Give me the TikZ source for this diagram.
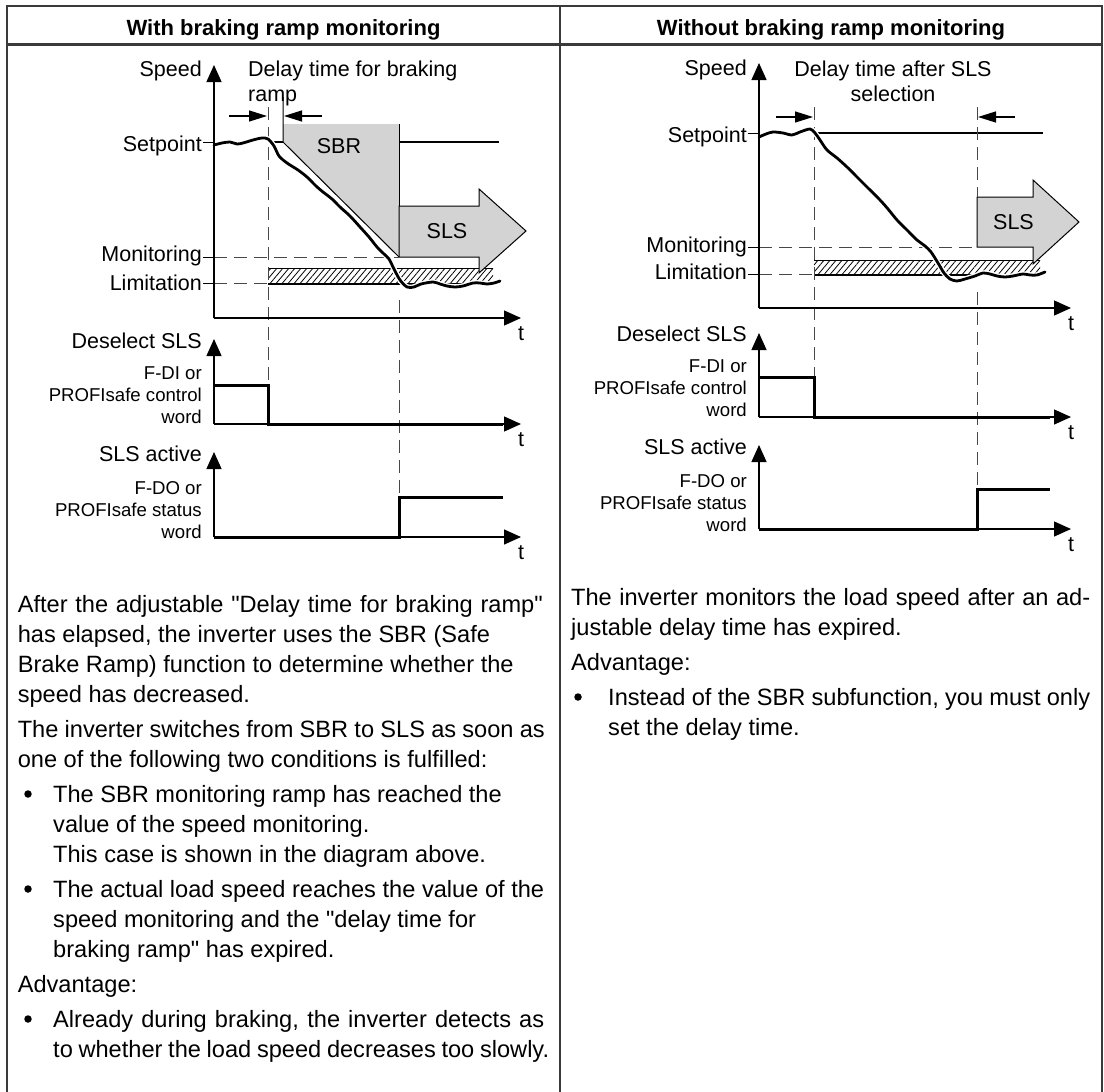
\documentclass[tikz,border=0pt]{standalone}
\usepackage{fontspec}
\setmainfont{Liberation Sans}[Ligatures=TeXOff]
\usetikzlibrary{arrows.meta, patterns.meta}
\definecolor{framegray}{HTML}{3A3A3A}
\definecolor{rampgray}{HTML}{D3D3D3}
\definecolor{dashgray}{HTML}{474747}
\newcommand{\justline}[2]{\hbox to #1pt{#2}}

\begin{document}
\begin{tikzpicture}[x=1pt, y=-1pt,
    frame/.style={draw=framegray, line width=1.3pt},
    axis/.style={line width=1.3pt, -{Triangle[length=17pt,width=15pt]}},
    delayarrow/.style={line width=1.3pt, -{Triangle[length=18pt,width=11pt]}},
    signal/.style={line width=3pt},
    guide/.style={dashgray, line width=0.9pt, dash pattern=on 13pt off 7pt},
    tick/.style={line width=1pt},
    hatchband/.style={pattern={Lines[angle=50,distance=4.6pt,line width=0.8pt]}},
    lbl/.style={inner sep=0pt, font=\fontsize{21.5}{25}\selectfont},
    smalllbl/.style={inner sep=0pt, anchor=base east, font=\fontsize{18.6}{22}\selectfont},
    bodytxt/.style={inner sep=0pt, anchor=base west, font=\fontsize{23.6}{30}\selectfont},
    bulletdot/.style={circle, fill, inner sep=0pt, minimum size=7.5pt},
    headtxt/.style={inner sep=0pt, anchor=base, font=\bfseries\fontsize{22}{26}\selectfont},
    speedcurve/.style={line width=2.8pt, line join=round, line cap=round}]

  \useasboundingbox (0,0) rectangle (1104,1092);

  % table frame
  \draw[frame] (7,1095) -- (7,6) -- (1102,6) -- (1102,1095);
  \draw[frame] (560,6) -- (560,1095);
  \draw[draw=framegray, line width=3pt] (7,44.5) -- (1102,44.5);
  \node[headtxt] (hleft) at (283.5,35) {With braking ramp monitoring};
  \node[headtxt] (hright) at (831,35) {Without braking ramp monitoring};

  % ---- left: with braking ramp monitoring ----
  \draw[line width=1.2pt] (268,142) -- (499,142);
  \fill[rampgray] (283,124) -- (399,124) -- (399,257) -- (283,142) -- cycle;
  \draw[line width=1pt] (283,97) -- (283,142) -- (399,257);
  \draw[line width=1pt] (399,124) -- (399,257);
  \fill[hatchband] (268,268) rectangle (493,283);
  \draw[line width=0.8pt] (268,268) -- (493,268);
  \draw[line width=2.6pt] (268,284) -- (493,284);
  \draw[fill=rampgray, line width=1pt] (399,206) -- (479,206) -- (479,189) -- (526,231)
    -- (479,273) -- (479,257) -- (399,257) -- cycle;
  \node[lbl, anchor=base] (sbrl) at (339,153) {SBR};
  \node[lbl, anchor=base] (slsl) at (447,238) {SLS};

  \draw[guide] (268,107) -- (268,385);
  \draw[guide] (399,300) -- (399,497);
  \draw[guide] (214,257) -- (399,257);
  \draw[guide] (214,283) -- (268,283);
  \foreach \y in {142,257,283}
    \draw[tick] (203,\y) -- (214,\y);

  \draw[white, line width=5.5pt] plot[smooth] coordinates {(214,145) (222,143) (230,142) (237,144) (243,143) (253,140) (262,138) (268,139) (274,146) (279,156) (287,163) (298,170) (307,177) (316,186) (323,192) (332,199) (340,207) (350,216) (360,227) (369,237) (377,247) (384,254) (389,259) (394,269) (400,280) (407,287) (414,287) (421,284) (433,282) (440,284) (447,286) (455,287) (463,286) (473,283) (480,283) (487,284) (494,283) (500,281)};
  \draw[speedcurve] plot[smooth] coordinates {(214,145) (222,143) (230,142) (237,144) (243,143) (253,140) (262,138) (268,139) (274,146) (279,156) (287,163) (298,170) (307,177) (316,186) (323,192) (332,199) (340,207) (350,216) (360,227) (369,237) (377,247) (384,254) (389,259) (394,269) (400,280) (407,287) (414,287) (421,284) (433,282) (440,284) (447,286) (455,287) (463,286) (473,283) (480,283) (487,284) (494,283) (500,281)};

  \draw[delayarrow] (229,116) -- (267,116);
  \draw[delayarrow] (322,116) -- (284,116);
  \node[lbl, anchor=base west] (delayl1) at (248,76) {Delay time for braking};
  \node[lbl, anchor=base west] (delayl2) at (248,101) {ramp};

  \foreach \y/\top in {318/65, 424/339, 537/452} {
    \draw[axis] (214,\y) -- (214,\top);
    \draw[axis] (214,\y) -- (521,\y);
    \node[lbl, anchor=base west] at (518,\y+22) {t};
  }
  \draw[signal] (214,385) -- (268,385) -- (268,424) -- (503,424);
  \draw[signal] (214,537) -- (399,537) -- (399,497) -- (503,497);

  \foreach \y/\txt [count=\i] in {76/Speed, 151/Setpoint, 261/Monitoring, 290/Limitation, 348.5/Deselect SLS, 461/SLS active}
    \node[lbl, anchor=base east] (lablft\i) at (202,\y) {\txt};
  \foreach \y/\txt [count=\i] in {379.5/F-DI or, 401.5/PROFIsafe control, 423.5/word, 494/F-DO or, 516/PROFIsafe status, 538/word}
    \node[smalllbl] (smllft\i) at (202,\y) {\txt};

  % ---- right: without braking ramp monitoring ----
  \draw[line width=1.2pt] (814,133) -- (1043,133);
  \fill[hatchband] (814,260) rectangle (1040,274);
  \draw[line width=0.8pt] (814,260) -- (1040,260);
  \draw[line width=2.6pt] (814,275) -- (1040,275);
  \draw[fill=rampgray, line width=1pt] (977,197) -- (1033,197) -- (1033,180) -- (1079,222)
    -- (1033,264) -- (1033,247) -- (977,247) -- cycle;
  \node[lbl, anchor=base] (slsr) at (1013.5,229) {SLS};

  \draw[guide] (814,107) -- (814,377);
  \draw[guide] (977,107) -- (977,197);
  \draw[guide] (977,292) -- (977,489);
  \draw[guide] (759,247) -- (977,247);
  \draw[guide] (759,274) -- (814,274);
  \foreach \y in {133,247,274}
    \draw[tick] (748,\y) -- (759,\y);

  \draw[white, line width=5.5pt] plot[smooth] coordinates {(759,137) (766,134) (773,132) (783,133) (792,135) (800,132) (810,129) (815,133) (820,140) (827,150) (837,158) (847,167) (857,177) (867,187) (880,200) (888,209) (897,220) (907,230) (917,240) (925,246) (931,252) (938,263) (944,273) (950,279) (957,281) (965,279) (975,276) (983,273) (990,274) (997,276) (1005,277) (1013,276) (1023,274) (1030,275) (1037,275) (1045,272)};
  \draw[speedcurve] plot[smooth] coordinates {(759,137) (766,134) (773,132) (783,133) (792,135) (800,132) (810,129) (815,133) (820,140) (827,150) (837,158) (847,167) (857,177) (867,187) (880,200) (888,209) (897,220) (907,230) (917,240) (925,246) (931,252) (938,263) (944,273) (950,279) (957,281) (965,279) (975,276) (983,273) (990,274) (997,276) (1005,277) (1013,276) (1023,274) (1030,275) (1037,275) (1045,272)};

  \draw[delayarrow] (776,117) -- (813,117);
  \draw[delayarrow] (1015,117) -- (978,117);
  \node[lbl, anchor=base] (delayr1) at (893,76) {Delay time after SLS};
  \node[lbl, anchor=base] (delayr2) at (893,101) {selection};

  \foreach \y/\top in {308/63, 417/333, 529/445} {
    \draw[axis] (759,\y) -- (759,\top);
    \draw[axis] (759,\y) -- (1071,\y);
    \node[lbl, anchor=base west] at (1068,\y+22) {t};
  }
  \draw[signal] (759,377) -- (814,377) -- (814,417) -- (1050,417);
  \draw[signal] (759,529) -- (977,529) -- (977,489) -- (1050,489);

  \foreach \y/\txt [count=\i] in {75/Speed, 142.5/Setpoint, 252.5/Monitoring, 279.5/Limitation, 341/Deselect SLS, 454/SLS active}
    \node[lbl, anchor=base east] (labrgt\i) at (747,\y) {\txt};
  \foreach \y/\txt [count=\i] in {372.5/F-DI or, 394.5/PROFIsafe control, 416.5/word, 487.5/F-DO or, 509.5/PROFIsafe status, 531.5/word}
    \node[smalllbl] (smlrgt\i) at (747,\y) {\txt};

  % ---- description texts ----
  \foreach \y/\x/\txt [count=\i] in {
      612/17.6/{\justline{525}{After the adjustable "Delay time for braking ramp"}},
      642/17.6/{has elapsed, the inverter uses the SBR (Safe},
      672/17.6/{Brake Ramp) function to determine whether the},
      702/17.6/{speed has decreased.},
      737/17.6/{\justline{527}{The inverter switches from SBR to SLS as soon as}},
      767/17.6/{one of the following two conditions is fulfilled:},
      802/53/{The SBR monitoring ramp has reached the},
      832/53/{value of the speed monitoring.},
      862/53/{This case is shown in the diagram above.},
      897/53/{\justline{491}{The actual load speed reaches the value of the}},
      927/53/{speed monitoring and the "delay time for},
      957/53/{braking ramp" has expired.},
      992/17.6/{Advantage:},
      1027/53/{\justline{491}{Already during braking, the inverter detects as}},
      1057/53/{\justline{496}{to whether the load speed decreases too slowly.}}}
    \node[bodytxt] (txtlft\i) at (\x,\y) {\txt};
  \foreach \y [count=\i] in {802,897,1027}
    \node[bulletdot] (bullft\i) at (28,\y-8) {};

  \foreach \y/\x/\txt [count=\i] in {
      605/571/{\justline{519}{The inverter monitors the load speed after an ad-}},
      635/571/{justable delay time has expired.},
      670/571/{Advantage:},
      705/608/{\justline{482}{Instead of the SBR subfunction, you must only}},
      735/608/{set the delay time.}}
    \node[bodytxt] (txtrgt\i) at (\x,\y) {\txt};
  \node[bulletdot] (bulrgt) at (578,697) {};
\end{tikzpicture}
\end{document}
